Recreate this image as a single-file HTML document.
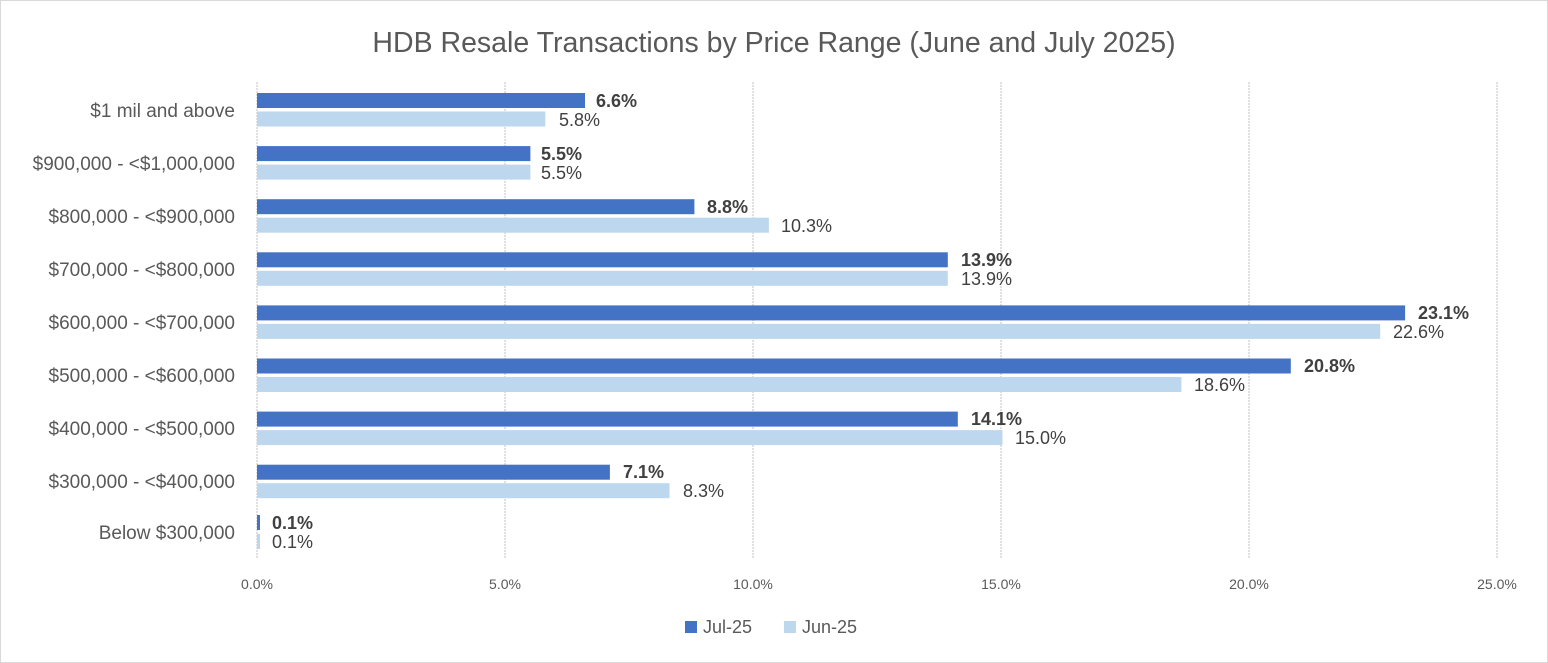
<!DOCTYPE html>
<html><head><meta charset="utf-8"><style>
html,body{margin:0;padding:0;background:#fff}
svg{display:block;font-family:"Liberation Sans",sans-serif}
</style></head><body>
<svg width="1548" height="663" viewBox="0 0 1548 663">
<rect x="0.5" y="0.5" width="1547" height="662" fill="#fff" stroke="#d9d9d9"/>
<text x="774" y="52" text-anchor="middle" font-size="28.5" fill="#595959">HDB Resale Transactions by Price Range (June and July 2025)</text>
<g stroke="#d0d0d0" stroke-width="1.3" stroke-dasharray="2,1">
<line x1="257" y1="82" x2="257" y2="559"/>
<line x1="505" y1="82" x2="505" y2="559"/>
<line x1="753" y1="82" x2="753" y2="559"/>
<line x1="1001" y1="82" x2="1001" y2="559"/>
<line x1="1249" y1="82" x2="1249" y2="559"/>
<line x1="1497" y1="82" x2="1497" y2="559"/>
</g>
<g font-size="14" fill="#595959" text-anchor="middle">
<text x="257" y="589">0.0%</text><text x="505" y="589">5.0%</text><text x="753" y="589">10.0%</text>
<text x="1001" y="589">15.0%</text><text x="1249" y="589">20.0%</text><text x="1497" y="589">25.0%</text>
</g>
<g fill="#4472c4">
<rect x="257" y="93" width="328" height="15"/>
<rect x="257" y="146.1" width="273.4" height="15"/>
<rect x="257" y="199.2" width="437.4" height="15"/>
<rect x="257" y="252.3" width="690.8" height="15"/>
<rect x="257" y="305.4" width="1148.1" height="15"/>
<rect x="257" y="358.5" width="1033.8" height="15"/>
<rect x="257" y="411.6" width="700.8" height="15"/>
<rect x="257" y="464.7" width="352.9" height="15"/>
<rect x="257" y="515" width="3" height="15"/>
</g>
<g fill="#bdd7ee">
<rect x="257" y="111.5" width="288.3" height="15"/>
<rect x="257" y="164.6" width="273.4" height="15"/>
<rect x="257" y="217.7" width="511.9" height="15"/>
<rect x="257" y="270.8" width="690.8" height="15"/>
<rect x="257" y="323.9" width="1123.2" height="15"/>
<rect x="257" y="377" width="924.4" height="15"/>
<rect x="257" y="430.1" width="745.5" height="15"/>
<rect x="257" y="483.2" width="412.5" height="15"/>
<rect x="257" y="534" width="3" height="15"/>
</g>
<g font-size="18" font-weight="bold" fill="#404040">
<text x="596" y="107">6.6%</text>
<text x="541" y="160">5.5%</text>
<text x="707" y="213">8.8%</text>
<text x="961" y="266">13.9%</text>
<text x="1418" y="319">23.1%</text>
<text x="1304" y="372">20.8%</text>
<text x="971" y="425">14.1%</text>
<text x="623" y="478">7.1%</text>
<text x="272" y="529">0.1%</text>
</g>
<g font-size="18" fill="#404040">
<text x="559" y="126">5.8%</text>
<text x="541" y="179">5.5%</text>
<text x="781" y="232">10.3%</text>
<text x="961" y="285">13.9%</text>
<text x="1393" y="338">22.6%</text>
<text x="1194" y="391">18.6%</text>
<text x="1015" y="444">15.0%</text>
<text x="683" y="497">8.3%</text>
<text x="272" y="548">0.1%</text>
</g>
<g font-size="19" fill="#595959" text-anchor="end">
<text x="235" y="117">$1 mil and above</text>
<text x="235" y="170">$900,000 - &lt;$1,000,000</text>
<text x="235" y="223">$800,000 - &lt;$900,000</text>
<text x="235" y="276">$700,000 - &lt;$800,000</text>
<text x="235" y="329">$600,000 - &lt;$700,000</text>
<text x="235" y="382">$500,000 - &lt;$600,000</text>
<text x="235" y="435">$400,000 - &lt;$500,000</text>
<text x="235" y="488">$300,000 - &lt;$400,000</text>
<text x="235" y="539">Below $300,000</text>
</g>
<rect x="685" y="621" width="12" height="12" fill="#4472c4"/><text x="703" y="633" font-size="18" fill="#595959">Jul-25</text>
<rect x="784" y="621" width="12" height="12" fill="#bdd7ee"/><text x="802" y="633" font-size="18" fill="#595959">Jun-25</text>
</svg>
</body></html>
